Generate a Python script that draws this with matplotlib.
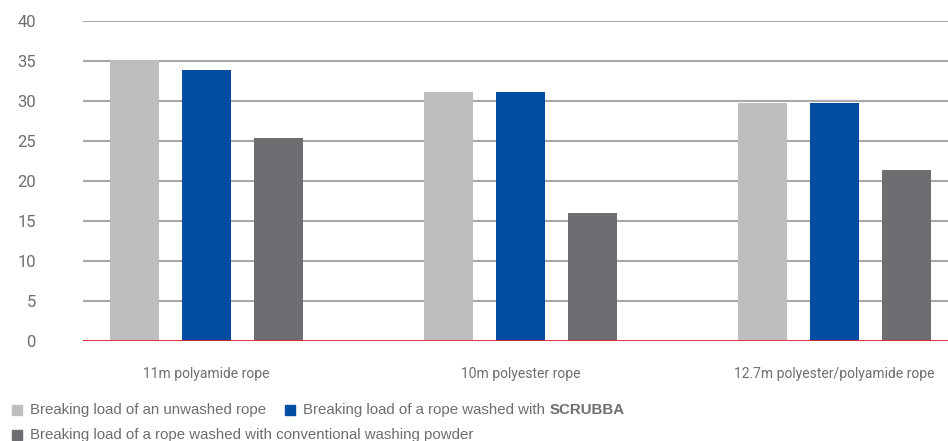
import matplotlib.pyplot as plt
import numpy as np
from matplotlib.patches import Rectangle

categories = ["11m polyamide rope", "10m polyester rope", "12.7m polyester/polyamide rope"]
unwashed = [35.1, 31.1, 29.7]
scrubba = [33.85, 31.1, 29.7]
powder = [25.35, 16.0, 21.3]
series_labels = ["Breaking load of an unwashed rope",
                 "Breaking load of a rope washed with ",
                 "Breaking load of a rope washed with conventional washing powder"]
yticks = [0, 5, 10, 15, 20, 25, 30, 35, 40]

colors = ["#bdbec0", "#034ea2", "#6d6e71"]
text_gray = "#6d6e71"

fig = plt.figure(figsize=(9.48, 4.41), dpi=100)
ax = fig.add_axes([83 / 948, 100.3 / 441, 865 / 948, 320 / 441])

x = np.arange(len(categories))
w = 49 / 314
step = 72 / 314
for i, vals in enumerate([unwashed, scrubba, powder]):
    ax.bar(x + (i - 1) * step, vals, width=w, color=colors[i], zorder=2)

ax.set_xlim(-123.5 / 314, 2 + 113.5 / 314)
ax.set_ylim(0, 40)
ax.set_yticks(yticks)
ax.set_yticklabels([str(t) for t in yticks], fontsize=12, color=text_gray,
                   family="Roboto")
ax.set_xticks(x)
ax.set_xticklabels(categories, fontsize=10, color=text_gray, family="Roboto")
ax.tick_params(axis="y", length=0, pad=34)
ax.tick_params(axis="x", length=0, pad=19)
for s in ax.spines.values():
    s.set_visible(False)
ax.yaxis.grid(True, color="#a7a7a7", linewidth=1.5, zorder=1)
ax.axhline(0, color="#e3242b", linewidth=2, zorder=3)

# legend drawn by hand to keep the two-row layout
def legend_item(xpx, ypx, color, label):
    fig.patches.append(Rectangle((xpx / 948, (441 - ypx - 5) / 441), 10 / 948, 10 / 441,
                                 transform=fig.transFigure, color=color))
    return fig.text((xpx + 18) / 948, (441 - ypx) / 441, label, fontsize=10.8,
                    color=text_gray, family="Liberation Sans", va="center")

legend_item(12, 410, colors[0], series_labels[0])
t = legend_item(285, 410, colors[1], series_labels[1])
fig.canvas.draw()
bb = t.get_window_extent()
fig.text(bb.x1 / 948, (441 - 410) / 441, "SCRUBBA", fontsize=10.8, color=text_gray,
         family="Liberation Sans", fontweight="bold", va="center")
legend_item(12, 435, colors[2], series_labels[2])

fig.savefig("out.png", dpi=100)
